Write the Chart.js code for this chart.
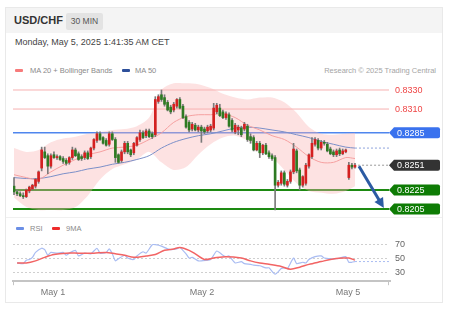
<!DOCTYPE html>
<html>
<head>
<meta charset="utf-8">
<script src="https://cdn.jsdelivr.net/npm/chart.js@4.4.0/dist/chart.umd.min.js"></script>
<style>
  body { margin: 0; width: 454px; height: 314px; background: #fff; position: relative; overflow: hidden;
         font-family: "Liberation Sans", Arial, sans-serif; }
  .abs { position: absolute; white-space: nowrap; }
  #card { left: 5px; top: 7px; width: 436px; height: 294px; border: 1px solid #e9e9e9; }
  #head { left: 6px; top: 8px; width: 436px; height: 25px; background: #f4f4f4; }
  #pair { left: 14px; top: 14px; font-size: 11px; font-weight: bold; color: #333; }
  #tf { left: 66px; top: 13px; width: 37px; height: 17px; line-height: 17px; background: #e3e3e3; border-radius: 2px;
        font-size: 8.5px; color: #555; text-align: center; }
  #date { left: 15px; top: 37px; font-size: 9px; color: #444; }
  .lg { font-size: 7.5px; color: #8a8a8a; }
  .sw { width: 8px; height: 3px; border-radius: 1px; }
  #sep { left: 6px; top: 217px; width: 436px; height: 1px; background: #f0f0f0; }
  canvas { position: absolute; left: 0; }
</style>
</head>
<body>
<div id="card" class="abs"></div>
<div id="head" class="abs"></div>
<div id="pair" class="abs">USD/CHF</div>
<div id="tf" class="abs">30 MIN</div>
<div id="date" class="abs">Monday, May 5, 2025 1:41:35 AM CET</div>

<div class="abs sw" style="left:15px;top:69px;background:#f77b7b"></div>
<div class="abs lg" style="left:30px;top:66px">MA 20 + Bollinger Bands</div>
<div class="abs sw" style="left:122px;top:69px;background:#2d4f9a"></div>
<div class="abs lg" style="left:135px;top:66px">MA 50</div>
<div class="abs lg" style="right:18px;top:66px;color:#a5a5a5">Research © 2025 Trading Central</div>
<div id="sep" class="abs"></div>

<div class="abs sw" style="left:16px;top:227px;background:#6b8fe6"></div>
<div class="abs lg" style="left:30px;top:224px">RSI</div>
<div class="abs sw" style="left:52px;top:227px;background:#ee2b2b"></div>
<div class="abs lg" style="left:66px;top:224px">9MA</div>

<canvas id="price" width="454" height="140" style="top:80px"></canvas>
<canvas id="rsi" width="454" height="72" style="top:232px"></canvas>

<script>
// 30-minute candles, index 0 = Apr 30 ~17:30 CET, last = May 5 01:30
const opens  = [0.8229,0.8223,0.8221,0.8219,0.8218,0.8224,0.8226,0.8229,0.8234,0.8248,
                0.8265,0.8261,0.8250,0.8262,0.8259,0.8260,0.8258,0.8256,0.8254,0.8259,
                0.8267,0.8263,0.8260,0.8259,0.8264,0.8260,0.8269,0.8277,0.8284,0.8280,
                0.8277,0.8273,0.8284,0.8278,0.8262,0.8256,0.8265,0.8274,0.8267,0.8264,
                0.8272,0.8278,0.8285,0.8282,0.8287,0.8284,0.8283,0.8318,0.8325,0.8322,
                0.8317,0.8312,0.8309,0.8313,0.8320,0.8313,0.8302,0.8296,0.8289,0.8293,
                0.8288,0.8291,0.8289,0.8287,0.8288,0.8290,0.8307,0.8311,0.8307,0.8301,
                0.8304,0.8298,0.8286,0.8288,0.8290,0.8289,0.8292,0.8281,0.8280,0.8267,
                0.8274,0.8264,0.8272,0.8264,0.8261,0.8259,0.8230,0.8232,0.8243,0.8230,
                0.8234,0.8244,0.8266,0.8246,0.8230,0.8232,0.8250,0.8260,0.8273,0.8277,
                0.8269,0.8275,0.8273,0.8268,0.8265,0.8262,0.8267,0.8263,0.8265,0.8238,
                0.8251,0.8249];
const highs  = [0.8238,0.8225,0.8223,0.8222,0.8226,0.8229,0.8231,0.8237,0.8245,0.8270,
                0.8270,0.8263,0.8263,0.8265,0.8262,0.8261,0.8260,0.8258,0.8260,0.8270,
                0.8269,0.8265,0.8262,0.8266,0.8266,0.8270,0.8279,0.8286,0.8286,0.8281,
                0.8279,0.8286,0.8286,0.8280,0.8263,0.8267,0.8276,0.8276,0.8268,0.8275,
                0.8281,0.8288,0.8287,0.8289,0.8289,0.8286,0.8323,0.8325,0.8330,0.8325,
                0.8319,0.8314,0.8317,0.8321,0.8322,0.8315,0.8304,0.8298,0.8296,0.8295,
                0.8293,0.8293,0.8291,0.8293,0.8294,0.8316,0.8316,0.8315,0.8309,0.8307,
                0.8306,0.8300,0.8295,0.8293,0.8292,0.8296,0.8294,0.8284,0.8282,0.8276,
                0.8276,0.8273,0.8274,0.8266,0.8263,0.8261,0.8235,0.8245,0.8245,0.8236,
                0.8246,0.8274,0.8268,0.8248,0.8240,0.8253,0.8263,0.8280,0.8280,0.8279,
                0.8277,0.8277,0.8275,0.8270,0.8267,0.8268,0.8269,0.8268,0.8268,0.8254,
                0.8253,0.8253];
const lows   = [0.8220,0.8219,0.8218,0.8216,0.8217,0.8222,0.8225,0.8227,0.8232,0.8245,
                0.8258,0.8242,0.8248,0.8258,0.8257,0.8256,0.8253,0.8251,0.8252,0.8257,
                0.8260,0.8256,0.8256,0.8257,0.8257,0.8258,0.8267,0.8275,0.8277,0.8273,
                0.8271,0.8271,0.8277,0.8254,0.8253,0.8254,0.8263,0.8263,0.8260,0.8262,
                0.8271,0.8276,0.8279,0.8280,0.8280,0.8279,0.8281,0.8316,0.8318,0.8313,
                0.8308,0.8305,0.8307,0.8311,0.8310,0.8300,0.8290,0.8286,0.8287,0.8287,
                0.8286,0.8275,0.8284,0.8285,0.8286,0.8288,0.8305,0.8302,0.8300,0.8299,
                0.8291,0.8286,0.8284,0.8283,0.8281,0.8287,0.8276,0.8274,0.8266,0.8266,
                0.8259,0.8262,0.8262,0.8258,0.8256,0.8204,0.8228,0.8230,0.8229,0.8228,
                0.8232,0.8242,0.8243,0.8225,0.8228,0.8230,0.8248,0.8258,0.8271,0.8267,
                0.8267,0.8272,0.8265,0.8262,0.8260,0.8260,0.8261,0.8262,0.8264,0.8236,
                0.8247,0.8248];
const closes = [0.8223,0.8221,0.8219,0.8218,0.8225,0.8228,0.8230,0.8236,0.8244,0.8267,
                0.8259,0.8250,0.8261,0.8259,0.8260,0.8257,0.8255,0.8253,0.8259,0.8267,
                0.8261,0.8257,0.8258,0.8264,0.8258,0.8269,0.8278,0.8284,0.8278,0.8274,
                0.8272,0.8284,0.8278,0.8259,0.8254,0.8265,0.8274,0.8265,0.8262,0.8274,
                0.8280,0.8285,0.8280,0.8287,0.8281,0.8281,0.8320,0.8323,0.8320,0.8315,
                0.8309,0.8307,0.8315,0.8320,0.8311,0.8301,0.8291,0.8288,0.8294,0.8288,
                0.8291,0.8287,0.8286,0.8291,0.8292,0.8311,0.8314,0.8303,0.8301,0.8305,
                0.8292,0.8288,0.8293,0.8291,0.8283,0.8294,0.8278,0.8277,0.8267,0.8274,
                0.8264,0.8272,0.8263,0.8260,0.8258,0.8230,0.8233,0.8243,0.8231,0.8234,
                0.8244,0.8268,0.8245,0.8230,0.8239,0.8251,0.8262,0.8274,0.8278,0.8269,
                0.8275,0.8274,0.8266,0.8263,0.8262,0.8266,0.8263,0.8266,0.8267,0.8251,
                0.8249,0.8251];

// indicator samples (every 4th candle)
const bandIdx  = [0,4,8,12,16,20,24,28,32,36,40,44,48,52,56,60,64,68,72,76,80,84,88,92,96,100,104,108,111];
const bbUpper  = [0.8269,0.8265,0.8267,0.8275,0.8279,0.8281,0.8284,0.8286,0.8288,0.8289,0.8292,0.8301,0.8330,0.8337,0.8337,
                  0.8336,0.8332,0.8326,0.8322,0.8320,0.8322,0.8322,0.8317,0.8306,0.8291,0.8284,0.8283,0.8284,0.8285];
const bbLower  = [0.8217,0.8207,0.8204,0.8204,0.8204,0.8207,0.8219,0.8236,0.8247,0.8252,0.8257,0.8265,0.8254,0.8246,0.8249,
                  0.8262,0.8273,0.8280,0.8282,0.8277,0.8269,0.8259,0.8246,0.8232,0.8224,0.8222,0.8221,0.8224,0.8229];
const ma20     = [0.8241,0.8238,0.8236,0.8244,0.8251,0.8257,0.8262,0.8265,0.8269,0.8270,0.8272,0.8278,0.8285,0.8296,0.8302,
                  0.8304,0.8304,0.8305,0.8301,0.8293,0.8288,0.8282,0.8278,0.8270,0.8260,0.8254,0.8254,0.8259,0.8258];
const ma50     = [0.8238,0.8237,0.8237,0.8239,0.8242,0.8244,0.8247,0.8249,0.8252,0.8254,0.8257,0.8261,0.8269,0.8275,0.8279,
                  0.8282,0.8284,0.8287,0.8290,0.8291,0.8290,0.8288,0.8286,0.8283,0.8280,0.8276,0.8273,0.8270,0.8269];

// key levels on the right
const levelValues = [0.8330, 0.8310, 0.8285, 0.8251, 0.8225, 0.8205];
const levelKinds  = ['res', 'res', 'ma', 'last', 'sup', 'sup'];
const arrowFrom = { i: 112.3, p: 0.8250 };
const arrowTo   = { i: 120.4, p: 0.8206 };

// RSI pane
const rsiIdx = [1,3,4,5,6,7,9,10,11,12,14,16,17,18,20,21,23,25,27,28,30,31,32,33,34,36,37,39,40,42,43,45,46,48,50,51,53,54,56,57,
                58,60,61,64,66,68,69,70,72,74,75,77,78,80,82,83,85,87,88,89,91,92,94,95,96,98,100,101,103,105,106,108,109,110,111];
const rsiVal = [43,42,47,48,51,58,64,62,54,58,57,58,54,57,61,53,57,56,64,57,58,63,56,46,49,54,50,48,53,59,57,69,69,67,63,62,63,65,56,50,
                51,46,46,48,60,54,52,53,43,45,42,41,40,39,36,36,27,35,36,35,50,42,44,43,48,52,53,50,49,49,50,52,44,44,45];
const maIdx  = [1,4,7,10,13,17,21,26,30,33,36,39,43,46,49,52,54,57,59,62,65,69,74,77,80,83,87,90,93,96,100,103,107,109,111];
const maVal  = [43,43,46,51,55,57,57,57,58,56,54,51,53,55,61,63,65,61,56,48,50,52,50,46,43,41,38,34,37,41,45,48,50,50,47];
const rsiLevels = [70, 50, 30];

const dayLabels  = ['May 1', 'May 2', 'May 5'];
const dayTickPos = [12.7, 61.2, 108.7];

const X_MIN = -0.33, X_MAX = 122.4;
const FONT = '"Liberation Sans", Arial, sans-serif';

const pts = (xs, ys) => xs.map((x, k) => ({ x: x, y: ys[k] }));
const last = closes.length - 1;

const levelStyle = {
  res:  { line: '#f6b1b1', width: 1, text: '#ef4646' },
  ma:   { line: '#4f86ee', width: 1.5, tag: '#3a72ee' },
  last: { tag: '#333333' },
  sup:  { line: '#1d8a12', width: 2, tag: '#0e7c05' }
};

function drawTag(ctx, x, y, w, h, color, label) {
  ctx.fillStyle = color;
  ctx.beginPath();
  ctx.moveTo(x, y);
  ctx.lineTo(x + 5, y - h / 2);
  ctx.lineTo(x + w - 2, y - h / 2);
  ctx.quadraticCurveTo(x + w, y - h / 2, x + w, y - h / 2 + 2);
  ctx.lineTo(x + w, y + h / 2 - 2);
  ctx.quadraticCurveTo(x + w, y + h / 2, x + w - 2, y + h / 2);
  ctx.lineTo(x + 5, y + h / 2);
  ctx.closePath();
  ctx.fill();
  ctx.fillStyle = '#fff';
  ctx.fillText(label, x + 8, y + 0.5);
}

const levelsPlugin = {
  id: 'levels',
  beforeDatasetsDraw(chart) {
    const { ctx, chartArea: a, scales: { y } } = chart;
    ctx.save();
    levelValues.forEach((v, k) => {
      const st = levelStyle[levelKinds[k]];
      if (!st.line) return;
      const py = y.getPixelForValue(v);
      ctx.strokeStyle = st.line;
      ctx.lineWidth = st.width;
      ctx.beginPath();
      ctx.moveTo(a.left, py);
      ctx.lineTo(a.right - 1, py);
      ctx.stroke();
    });
    ctx.restore();
  },
  afterDraw(chart) {
    const { ctx, chartArea: a, scales: { x, y } } = chart;
    ctx.save();
    ctx.font = '9px ' + FONT;
    ctx.textBaseline = 'middle';
    levelValues.forEach((v, k) => {
      const st = levelStyle[levelKinds[k]];
      const py = y.getPixelForValue(v);
      const label = v.toFixed(4);
      if (st.tag) {
        drawTag(ctx, a.right - 1, py, 51, 11, st.tag, label);
      } else {
        ctx.fillStyle = st.text;
        ctx.fillText(label, a.right + 5, py + 0.5);
      }
    });
    // forecast arrow
    const x0 = x.getPixelForValue(arrowFrom.i), y0 = y.getPixelForValue(arrowFrom.p);
    const x1 = x.getPixelForValue(arrowTo.i), y1 = y.getPixelForValue(arrowTo.p);
    const ang = Math.atan2(y1 - y0, x1 - x0);
    ctx.strokeStyle = ctx.fillStyle = '#2c5ba3';
    ctx.lineWidth = 3;
    ctx.beginPath();
    ctx.moveTo(x0, y0);
    ctx.lineTo(x1 - 7 * Math.cos(ang), y1 - 7 * Math.sin(ang));
    ctx.stroke();
    ctx.beginPath();
    ctx.moveTo(x1, y1);
    ctx.lineTo(x1 - 10 * Math.cos(ang) + 5 * Math.sin(ang), y1 - 10 * Math.sin(ang) - 5 * Math.cos(ang));
    ctx.lineTo(x1 - 10 * Math.cos(ang) - 5 * Math.sin(ang), y1 - 10 * Math.sin(ang) + 5 * Math.cos(ang));
    ctx.closePath();
    ctx.fill();
    ctx.restore();
  }
};

const wickData = closes.map((c, i) => ({ x: i, y: [lows[i], highs[i]] }));
const bodyData = closes.map((c, i) => ({ x: i, y: [opens[i], c] }));
const bodyColors = closes.map((c, i) => c > opens[i] ? '#d42020' : c < opens[i] ? '#2e7a22' : '#777');

new Chart(document.getElementById('price'), {
  type: 'bar',
  data: {
    datasets: [
      { type: 'line', data: pts(bandIdx, bbUpper), fill: '+1', backgroundColor: 'rgba(250,178,178,0.38)',
        borderWidth: 0, pointRadius: 0, tension: 0.3, order: 10 },
      { type: 'line', data: pts(bandIdx, bbLower), fill: false, borderWidth: 0, pointRadius: 0, tension: 0.3, order: 10 },
      { type: 'line', data: pts(bandIdx, ma20), borderColor: '#f5a0a0', borderWidth: 1, pointRadius: 0, tension: 0.3, order: 5 },
      { type: 'line', data: pts(bandIdx, ma50), borderColor: '#7b8fc8', borderWidth: 1, pointRadius: 0, tension: 0.3, order: 5 },
      { type: 'line', data: [{ x: last, y: ma50[ma50.length - 1] }, { x: X_MAX, y: ma50[ma50.length - 1] }],
        borderColor: '#8ea3dc', borderWidth: 1, borderDash: [2, 2], pointRadius: 0, order: 5 },
      { type: 'line', data: [{ x: last + 1, y: closes[last] }, { x: X_MAX, y: closes[last] }],
        borderColor: '#999', borderWidth: 1, borderDash: [2, 2], pointRadius: 0, order: 5 },
      { data: wickData, backgroundColor: '#7a7a7a', barThickness: 1, grouped: false, order: 2 },
      { data: bodyData, backgroundColor: bodyColors, barThickness: 2, minBarLength: 1, grouped: false, order: 1 }
    ]
  },
  options: {
    responsive: false,
    animation: false,
    layout: { padding: { left: 13, right: 64, top: 0, bottom: 0 } },
    plugins: { legend: { display: false }, tooltip: { enabled: false } },
    scales: {
      x: { type: 'linear', min: X_MIN, max: X_MAX, offset: false, display: false },
      y: { min: 0.819344, max: 0.83405, display: false }
    }
  },
  plugins: [levelsPlugin]
});

const rsiPlugin = {
  id: 'rsiLevels',
  beforeDatasetsDraw(chart) {
    const { ctx, chartArea: a, scales: { y } } = chart;
    ctx.save();
    ctx.strokeStyle = '#cfcfcf';
    ctx.lineWidth = 1;
    ctx.setLineDash([2, 2]);
    ctx.font = '9px ' + FONT;
    ctx.fillStyle = '#666';
    ctx.textBaseline = 'middle';
    rsiLevels.forEach(v => {
      const py = Math.round(y.getPixelForValue(v)) + 0.5;
      ctx.beginPath();
      ctx.moveTo(a.left, py);
      ctx.lineTo(a.right - 2, py);
      ctx.stroke();
      ctx.fillText(String(v), a.right + 5, py);
    });
    ctx.restore();
  },
  afterDraw(chart) {
    const { ctx, chartArea: a } = chart;
    ctx.save();
    ctx.strokeStyle = '#c4c4c4';
    ctx.lineWidth = 1;
    ctx.beginPath();
    ctx.moveTo(a.left + 0.5, a.bottom);
    ctx.lineTo(a.left + 0.5, a.bottom + 4);
    ctx.moveTo(a.right - 1.5, a.bottom);
    ctx.lineTo(a.right - 1.5, a.bottom + 4);
    ctx.stroke();
    ctx.restore();
  }
};

new Chart(document.getElementById('rsi'), {
  type: 'line',
  data: {
    datasets: [
      { data: pts(maIdx, maVal), borderColor: '#f26464', borderWidth: 1.5, pointRadius: 0, tension: 0.3 },
      { data: pts(rsiIdx, rsiVal), borderColor: '#a9bcf2', borderWidth: 1.2, pointRadius: 0, tension: 0.2 },
      { data: [{ x: last, y: rsiVal[rsiVal.length - 1] }, { x: X_MAX, y: rsiVal[rsiVal.length - 1] }],
        borderColor: '#a9bcf2', borderWidth: 1, borderDash: [2, 2], pointRadius: 0 }
    ]
  },
  options: {
    responsive: false,
    animation: false,
    layout: { padding: { left: 13, right: 64, top: 5, bottom: 0 } },
    plugins: { legend: { display: false }, tooltip: { enabled: false } },
    scales: {
      x: {
        type: 'linear', min: X_MIN, max: X_MAX, offset: false,
        grid: { display: false, drawTicks: false },
        border: { display: true, color: '#c4c4c4', width: 2 },
        afterBuildTicks: s => { s.ticks = dayTickPos.map(v => ({ value: v })); },
        ticks: {
          autoSkip: false, maxRotation: 0, padding: 6, color: '#777',
          font: { size: 9, family: FONT },
          callback: (v, k) => dayLabels[k]
        }
      },
      y: { min: 17, max: 80, display: false }
    }
  },
  plugins: [rsiPlugin]
});
</script>
</body>
</html>
